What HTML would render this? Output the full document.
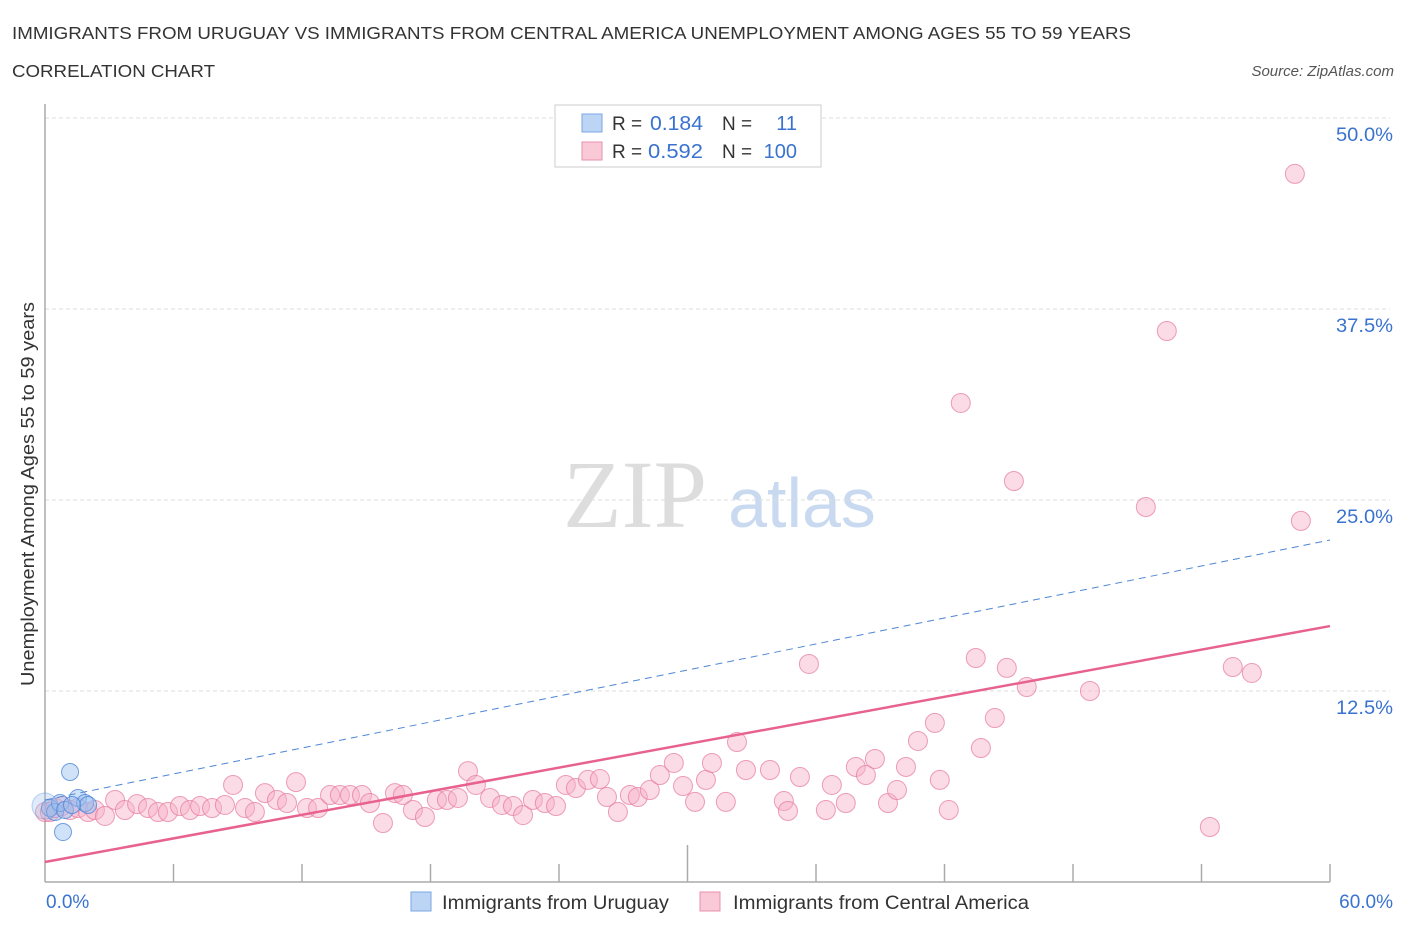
<!DOCTYPE html>
<html><head><meta charset="utf-8"><style>
body{margin:0;background:#fff;font-family:"Liberation Sans",sans-serif;}
svg text{font-family:"Liberation Sans",sans-serif;}
</style></head><body>
<svg id="chart" width="1406" height="930">
<text x="12" y="39" font-size="17.5" fill="#333" textLength="1119" lengthAdjust="spacingAndGlyphs">IMMIGRANTS FROM URUGUAY VS IMMIGRANTS FROM CENTRAL AMERICA UNEMPLOYMENT AMONG AGES 55 TO 59 YEARS</text>
<text x="12" y="77" font-size="17.5" fill="#333" textLength="203" lengthAdjust="spacingAndGlyphs">CORRELATION CHART</text>
<text x="1394" y="76" font-size="15" fill="#555" font-style="italic" text-anchor="end">Source: ZipAtlas.com</text>
<text x="34" y="494" font-size="18" fill="#333" text-anchor="middle" textLength="384" lengthAdjust="spacingAndGlyphs" transform="rotate(-90 34 494)">Unemployment Among Ages 55 to 59 years</text>
<g>
<text x="635" y="527" font-size="96" fill="#ddd" text-anchor="middle" style="font-family:'Liberation Serif',serif">ZIP</text>
<text x="802" y="527" font-size="70" fill="#c9daf0" text-anchor="middle">atlas</text>
</g>
<g id="grid"></g>
<g id="axes"></g>
<g id="pts"></g>
<g id="lines"></g>
<g>
<rect x="555" y="105" width="266" height="62" fill="#fff" stroke="#ccc"/>
<rect x="582" y="114" width="20" height="18" fill="#bcd5f5" stroke="#7aa6e0"/>
<rect x="582" y="142" width="20" height="18" fill="#f9c9d7" stroke="#e890ab"/>
<text x="612" y="130" font-size="19" fill="#333">R = </text><text x="650" y="130" font-size="20" fill="#3a73cf" textLength="53" lengthAdjust="spacingAndGlyphs">0.184</text>
<text x="722" y="130" font-size="19" fill="#333">N = </text><text x="797" y="130" font-size="20" fill="#3a73cf" text-anchor="end">11</text>
<text x="612" y="158" font-size="19" fill="#333">R = </text><text x="648" y="158" font-size="20" fill="#3a73cf" textLength="55" lengthAdjust="spacingAndGlyphs">0.592</text>
<text x="722" y="158" font-size="19" fill="#333">N = </text><text x="797" y="158" font-size="20" fill="#3a73cf" text-anchor="end">100</text>
</g>
<g>
<rect x="411" y="892" width="20" height="19" fill="#bcd5f5" stroke="#7aa6e0"/>
<text x="442" y="909" font-size="19" fill="#333" textLength="227" lengthAdjust="spacingAndGlyphs">Immigrants from Uruguay</text>
<rect x="700" y="892" width="20" height="19" fill="#f9c9d7" stroke="#e890ab"/>
<text x="733" y="909" font-size="19" fill="#333" textLength="296" lengthAdjust="spacingAndGlyphs">Immigrants from Central America</text>
</g>
</svg>
<script>
const yTicks=[12.5,25,37.5,50];
const yTickLabels=["12.5%","25.0%","37.5%","50.0%"];
const xTickLabels=["0.0%","60.0%"];
const uruguayX=[0.23,0.47,0.70,0.93,1.17,0.84,1.54,1.87,2.01,1.26,0];
const uruguayY=[4.84,4.58,5.17,4.71,7.20,3.27,5.50,5.17,5.04,5.04,4.97];
const centralX=[0,0.23,0.47,0.79,1.17,1.54,2.01,2.33,2.80,3.27,3.73,4.30,4.81,5.28,5.74,6.30,6.77,7.24,7.80,8.40,8.78,9.34,9.80,10.27,10.83,11.30,11.72,12.23,12.75,13.31,13.77,14.24,14.80,15.17,15.78,16.34,16.71,17.18,17.74,18.30,18.77,19.28,19.75,20.12,20.78,21.34,21.85,22.32,22.78,23.34,23.86,24.32,24.79,25.35,25.91,26.24,26.75,27.31,27.68,28.24,28.71,29.36,29.79,30.35,30.86,31.14,31.79,32.31,32.73,33.85,34.50,34.69,35.25,35.67,36.46,36.74,37.39,37.86,38.33,38.75,39.36,39.78,40.20,40.76,41.55,41.78,42.20,43.70,44.35,44.91,45.24,45.84,48.79,51.40,43.46,42.76,52.38,55.46,56.35,54.39,58.36,58.64];
const centralY=[4.58,4.58,4.84,4.97,4.71,4.84,4.58,4.71,4.32,5.37,4.71,5.10,4.84,4.58,4.58,4.97,4.71,4.97,4.84,5.04,6.35,4.84,4.58,5.82,5.37,5.17,6.54,4.84,4.84,5.69,5.69,5.69,5.69,5.17,3.86,5.82,5.69,4.71,4.25,5.37,5.37,5.50,7.26,6.35,5.50,5.04,4.97,4.38,5.37,5.17,4.97,6.35,6.15,6.68,6.74,5.56,4.58,5.69,5.56,6.02,7.00,7.79,6.28,5.24,6.68,7.79,5.24,9.16,7.33,7.33,5.30,4.65,6.87,14.27,4.71,6.35,5.17,7.53,7.00,8.05,5.17,6.02,7.53,9.23,10.41,6.68,4.71,8.77,10.73,14.01,26.24,12.76,12.50,24.54,14.66,31.35,36.06,14.07,13.68,3.60,46.34,23.63];
const uruguayFit=[5.37,22.38];
const centralFit=[1.31,16.75];
const NS="http://www.w3.org/2000/svg";
const X0=45,X1=1330,Y0=882,Y50=118;
const sx=v=>X0+(v/60)*(X1-X0);
const sy=v=>Y0-(v/50)*(Y0-Y50);
function mk(t,a,p){const e=document.createElementNS(NS,t);for(const k in a)e.setAttribute(k,a[k]);p.appendChild(e);return e;}
const grid=document.getElementById('grid'),axes=document.getElementById('axes'),pts=document.getElementById('pts'),lines=document.getElementById('lines');
yTicks.forEach((t,i)=>{
 const l=mk('line',{x1:X0,x2:1390,y1:sy(t),y2:sy(t),stroke:'#ddd','stroke-dasharray':'4,3'},grid);
 
 
 const tx=mk('text',{x:1393,y:sy(t)+23,'font-size':19,fill:'#3a73cf','text-anchor':'end',textLength:57,lengthAdjust:'spacingAndGlyphs'},grid);
 tx.textContent=yTickLabels[i];
 
 
});
const ya=mk('line',{x1:X0,x2:X0,y1:104,y2:Y0,stroke:'#aaa','stroke-width':1.5},axes);


const xa=mk('line',{x1:X0,x2:X1,y1:Y0,y2:Y0,stroke:'#aaa','stroke-width':1.5},axes);


for(let i=1;i<=10;i++){
 const v=i*6;
 const tk=mk('line',{x1:sx(v),x2:sx(v),y1:i==5?845:864,y2:Y0,stroke:'#aaa','stroke-width':1.5},axes);
 
 
}
[[0,'start',46],[60,'end',1393]].forEach((d,i)=>{
 const tx=mk('text',{x:d[2],y:908,'font-size':19,fill:'#3a73cf','text-anchor':d[1]},axes);
 tx.textContent=xTickLabels[i];
 
 
});
centralX.forEach((x,i)=>{
 const c=mk('circle',{cx:sx(x),cy:sy(centralY[i]),r:9.5,fill:'rgba(246,176,198,0.45)',stroke:'rgba(230,120,155,0.7)','stroke-width':1},pts);
 
 
});
uruguayX.forEach((x,i)=>{
 const c=mk('circle',{cx:sx(x),cy:sy(uruguayY[i]),r:i==10?13:8.5,fill:i==10?'rgba(150,190,240,0.3)':'rgba(150,190,240,0.45)',stroke:i==10?'rgba(70,130,215,0.35)':'rgba(70,130,215,0.75)','stroke-width':1},pts);
 
 
});
const lb=mk('line',{x1:sx(0),y1:sy(uruguayFit[0]),x2:sx(60),y2:sy(uruguayFit[1]),stroke:'#4f86d6','stroke-width':1,'stroke-dasharray':'7,5'},lines);


const lp=mk('line',{x1:sx(0),y1:sy(centralFit[0]),x2:sx(60),y2:sy(centralFit[1]),stroke:'#e8628f','stroke-width':2.5},lines);


</script>
</body></html>
